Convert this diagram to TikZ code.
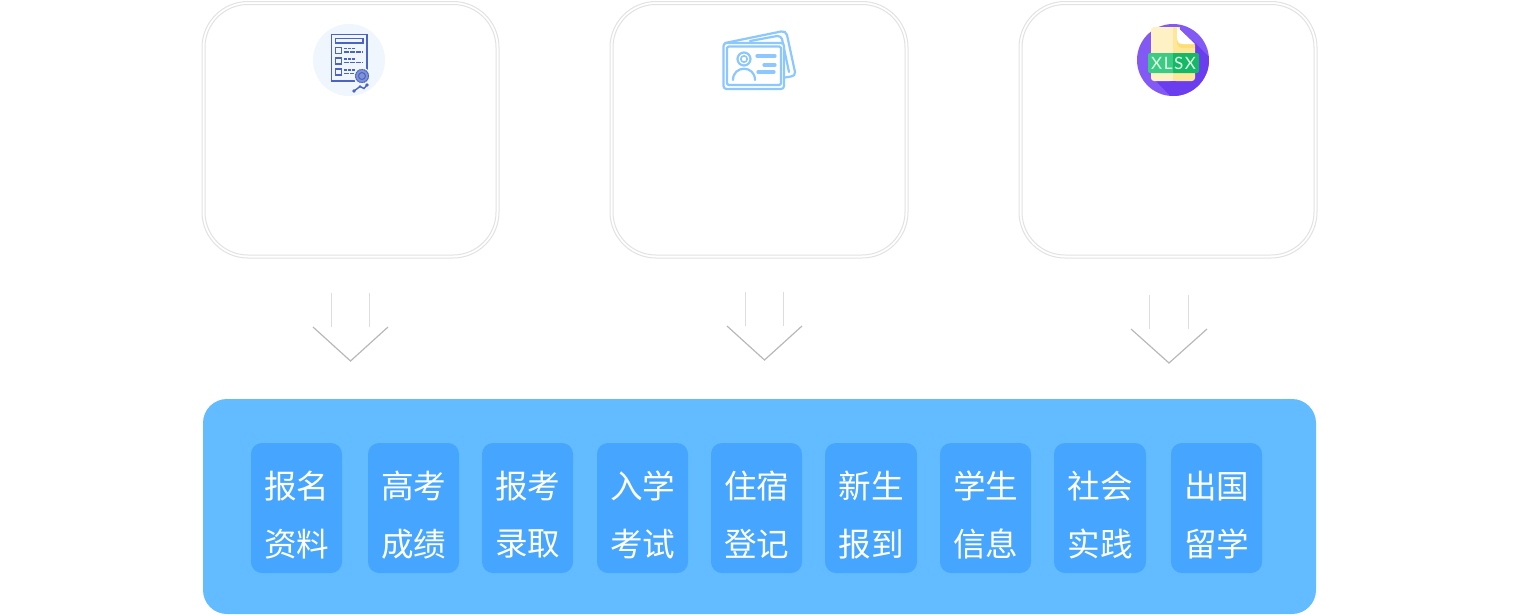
\documentclass[tikz,border=0pt]{standalone}
\usepackage{fontspec}
\setmainfont{Noto Sans CJK SC}
\newfontfamily\labelsans[LetterSpace=9]{Lato}
\definecolor{cardline}{HTML}{E2E2E2}
\definecolor{panelblue}{HTML}{62BCFF}
\definecolor{pillblue}{HTML}{45A5FF}
\definecolor{shaftgrey}{HTML}{DDDDDD}
\definecolor{headgrey}{HTML}{B8B8B8}
\definecolor{docblue}{HTML}{4A63C4}
\definecolor{docpale}{HTML}{EFF6FE}
\definecolor{idblue}{HTML}{8CC8FF}
\definecolor{xlviolet}{HTML}{8259F5}
\definecolor{xlshadow}{HTML}{6A3DEF}
\definecolor{paperlight}{HTML}{FFF1C6}
\definecolor{paperdark}{HTML}{FFE79A}
\definecolor{foldcol}{HTML}{FFDD75}
\definecolor{bandlight}{HTML}{3CCB85}
\definecolor{banddark}{HTML}{15B867}
\tikzset{
  cardo/.style={draw=cardline,line width=1pt,fill=white,rounded corners=46pt},
  cardi/.style={draw=cardline,line width=1pt,rounded corners=43pt},
  pillbox/.style={fill=pillblue,rounded corners=11pt},
  pilltext/.style={text=white,font=\fontsize{32.6}{38}\selectfont,inner sep=0pt},
  shaftline/.style={draw=shaftgrey,line width=1pt},
  headline/.style={draw=headgrey,line width=1.2pt,line join=miter},
  docline/.style={draw=docblue,line width=1.5pt},
  idline/.style={draw=idblue,line width=2.2pt,line cap=round,line join=round},
  idbar/.style={draw=idblue,line width=3.2pt,line cap=round},
}
\newcommand{\cardpair}[2]{%
  \draw[cardo] (#1,1.5) rectangle (#2,258);
  \draw[cardi] (#1+3,4.5) rectangle (#2-3,255);
}
\newcommand{\downarrowmark}[5]{%
  \draw[shaftline] (#2,#5) -- (#2,#5+34);
  \draw[shaftline] (#3,#5) -- (#3,#5+34);
  \draw[headline] (#1,#5+34) -- ({(#1+#4)/2},#5+68) -- (#4,#5+34);
}
\newcommand{\pill}[6]{%
  \path[pillbox] (#1,443) rectangle (#2,573);
  \node[pilltext] (#6a) at ({(#1+#2)/2+0.3},486) {#3#4};
  \node[pilltext] (#6b) at ({(#1+#2)/2+0.3},544) {#5};
}
\begin{document}
\begin{tikzpicture}[x=1pt,y=-1pt]
\useasboundingbox (0,0) rectangle (1519,614);
\cardpair{202}{499}
\cardpair{610}{908}
\cardpair{1019}{1317}
% document icon
\fill[docpale] (349,60) circle (36);
\draw[docline] (367,70) -- (367,34.5) -- (331.5,34.5) -- (331.5,81) -- (355,81);
\draw[docline] (335.5,38.5) rectangle (363,43);
\foreach \yy in {47.5,58,69}{
  \draw[docline] (335.5,\yy) rectangle (341.5,\yy+6);
  \draw[docblue,line width=1.1pt,dash pattern=on 3pt off 1pt] (344,\yy+1) -- (356,\yy+1);
  \draw[docblue,line width=1.1pt,dash pattern=on 5pt off 1pt] (344,\yy+4.5) -- (363,\yy+4.5);
}
\fill[docpale] (362,76) circle (8.5);
\fill[docblue!70] (362,76) circle (7);
\draw[docblue,line width=1pt,dash pattern=on 1.5pt off .8pt] (362,76) circle (6.5);
\draw[docblue,line width=1pt] (362,76) circle (3.5);
\draw[docblue,line width=1.4pt] (354,91) -- (360,86.5) -- (364,88.5) -- (367,85);
\fill[docblue] (354,91) circle (1.8) (360,86.5) circle (1.4) (367,85) circle (1.8);
% id card icon
\draw[idline] (725,43) -- (781,31.5) .. controls (784,31) and (786,32) .. (787,35) -- (795,72) .. controls (795,75) and (794,76) .. (791,76.5) -- (785,77.5);
\draw[idline] (750,41) -- (777,36) .. controls (780,36) and (781,37) .. (782,39) -- (789,72);
\draw[idline,fill=white,rounded corners=3pt] (723.5,43) rectangle (784,89);
\draw[idline,rounded corners=1.5pt] (727,46.5) rectangle (781,85);
\draw[idline] (744,59) circle (6.5);
\draw[idline,line width=1.6pt] (744,59) circle (3.2);
\draw[idline] (733,80) .. controls (733,65) and (755,65) .. (755,80);
\draw[idbar] (757,56) -- (775,56);
\draw[idbar] (764,65) -- (775,65);
\draw[idbar] (758,72) -- (774,72);
% xlsx icon
\begin{scope}
  \clip (1173,60) circle (36);
  \fill[xlviolet] (1130,20) rectangle (1216,104);
  \fill[xlshadow] (1151,76) -- (1178,104) -- (1216,104) -- (1216,64) -- (1192,40) -- cycle;
\end{scope}
\fill[paperlight,rounded corners=3pt] (1151,27) -- (1173,27) -- (1173,81) -- (1151,81) -- cycle;
\fill[paperlight] (1165,27) rectangle (1173,81);
\fill[paperdark,rounded corners=3pt] (1173,27) -- (1177,27) -- (1195,45) -- (1195,81) -- (1173,81) -- cycle;
\fill[paperdark] (1173,27) rectangle (1180,81);
\fill[foldcol] (1177,27) -- (1195,45) -- (1195,48) -- (1183,48) .. controls (1179,48) and (1177,46) .. (1177,42) -- cycle;
\fill[white] (1177,27) -- (1195,44) -- (1183,44) .. controls (1179,44) and (1177,42) .. (1177,39) -- cycle;
\fill[bandlight,rounded corners=2pt] (1148,53) rectangle (1175,73);
\fill[banddark,rounded corners=2pt] (1172,53) rectangle (1199,73);
\fill[bandlight] (1172,53) rectangle (1173,73);
\node[text=white!90!green,font=\labelsans\fontsize{17}{17}\selectfont,inner sep=0pt] (xlsxtext) at (1173.5,63.5) {XLSX};
% arrows
\downarrowmark{313}{331}{369}{388}{293}
\downarrowmark{727}{745}{783}{802}{292}
\downarrowmark{1131}{1149}{1188}{1207}{295}
% panel
\fill[panelblue,rounded corners=24pt] (203,399) rectangle (1316,614);
\pill{251}{342}{报}{名}{资料}{pa}
\pill{368}{459}{高}{考}{成绩}{pb}
\pill{482}{573}{报}{考}{录取}{pc}
\pill{597}{688}{入}{学}{考试}{pd}
\pill{711}{802}{住}{宿}{登记}{pe}
\pill{825}{917}{新}{生}{报到}{pf}
\pill{940}{1031}{学}{生}{信息}{pg}
\pill{1054}{1146}{社}{会}{实践}{ph}
\pill{1171}{1262}{出}{国}{留学}{pi}
\end{tikzpicture}
\end{document}
